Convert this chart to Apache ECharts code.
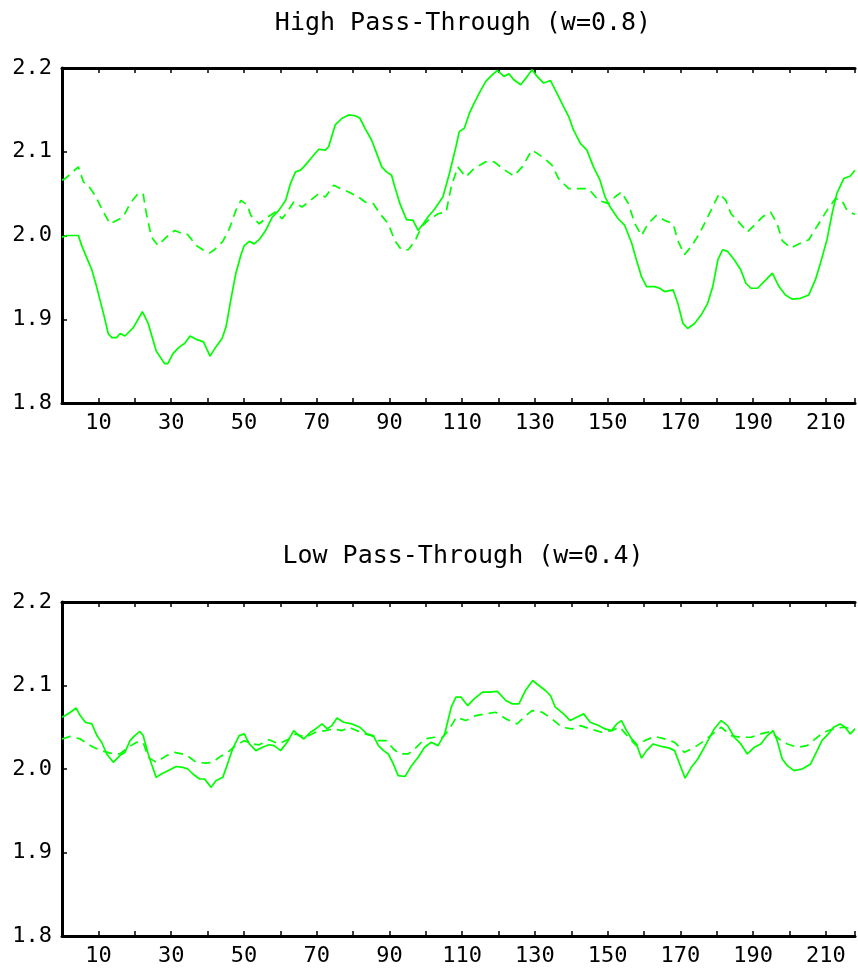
<!DOCTYPE html>
<html>
<head>
<meta charset="utf-8">
<script src="https://cdn.jsdelivr.net/npm/echarts@6/dist/echarts.min.js"></script>
<style>
html,body{margin:0;padding:0;background:#fff;}
#chart{width:858px;height:974px;}
</style>
</head>
<body>
<div id="chart"></div>
<script>
// ---- Data ----
var titles = ['High Pass-Through (w=0.8)', 'Low Pass-Through (w=0.4)'];
var yTicks = [1.8, 1.9, 2.0, 2.1, 2.2];
var xTickLabels = [10, 30, 50, 70, 90, 110, 130, 150, 170, 190, 210];
var xRange = [0, 218];

// High pass-through, solid
var highSolidX = [0,1.4,4.5,5.5,8.2,9.5,11.4,12.7,13.7,15.0,16.0,17.3,19.6,22.1,23.7,25.9,28.2,29.1,30.5,32.3,33.7,35.2,36.9,38.9,40.7,42.3,44.0,45.1,46.4,47.8,49.2,50.1,51.5,52.8,54.2,56.0,57.8,59.6,61.5,62.8,64.2,65.6,66.9,68.8,70.6,72.4,73.3,75.1,77.0,78.8,80.6,81.9,83.3,85.1,86.5,87.9,89.2,90.6,91.5,92.9,94.7,96.5,97.9,99.3,100.6,102.5,104.7,106.5,108.3,109.2,110.6,112.0,113.3,114.7,116.5,118.3,119.7,121.5,122.9,124.2,126.1,127.9,129.2,130.6,132.4,134.3,135.6,137.4,139.3,140.6,142.5,144.3,146.1,147.9,149.3,150.7,152.9,154.7,156.6,157.9,159.3,160.7,162.9,164.3,165.7,168.0,169.3,170.7,172.0,173.9,175.7,177.5,178.9,180.3,181.6,183.0,184.8,186.6,188.0,189.4,191.2,193.5,195.3,197.1,198.9,200.7,203.0,205.3,207.1,208.5,210.3,211.7,213.0,214.9,216.7,218];
var highSolidY = [1.998,2.0,2.0,1.987,1.959,1.939,1.907,1.883,1.878,1.878,1.883,1.880,1.890,1.909,1.895,1.862,1.847,1.847,1.859,1.867,1.871,1.880,1.876,1.873,1.856,1.867,1.877,1.891,1.923,1.955,1.977,1.988,1.993,1.990,1.995,2.006,2.022,2.030,2.042,2.062,2.076,2.078,2.084,2.094,2.103,2.102,2.106,2.132,2.140,2.144,2.143,2.140,2.128,2.114,2.098,2.082,2.076,2.072,2.058,2.038,2.019,2.018,2.006,2.014,2.022,2.032,2.046,2.074,2.106,2.124,2.128,2.146,2.158,2.170,2.184,2.192,2.197,2.190,2.193,2.186,2.180,2.190,2.198,2.190,2.182,2.185,2.174,2.158,2.142,2.126,2.110,2.102,2.082,2.066,2.046,2.034,2.020,2.012,1.991,1.971,1.951,1.939,1.939,1.937,1.933,1.935,1.919,1.895,1.889,1.895,1.905,1.919,1.939,1.971,1.983,1.981,1.971,1.959,1.943,1.937,1.937,1.947,1.955,1.939,1.929,1.924,1.925,1.929,1.947,1.967,1.995,2.026,2.050,2.068,2.071,2.078];

// High pass-through, dashed
var highDashX = [0,0.9,4.5,5.9,7.3,9.1,11.4,13.2,15.0,16.8,18.7,20.9,22.3,23.2,24.6,26.4,28.7,31.0,33.2,34.6,36.9,38.7,40.5,41.9,44.2,46.0,47.8,49.2,51.0,51.9,54.2,56.5,58.7,60.5,61.9,63.7,66.0,68.3,70.6,72.4,74.7,76.5,78.8,81.5,83.3,85.6,87.4,89.7,91.5,93.3,95.2,97.0,98.8,100.6,103.4,105.6,107.0,108.8,111.0,113.3,116.5,118.8,121.1,124.2,126.5,129.2,132.0,134.7,136.5,139.3,142.0,144.7,147.5,150.2,152.0,153.8,155.7,157.5,159.3,161.1,163.4,165.7,168.0,169.3,171.1,173.0,175.2,177.5,179.3,180.7,182.5,183.9,185.7,188.4,190.7,192.5,194.8,196.6,198.0,200.3,202.1,205.3,208.0,210.3,212.6,214.4,215.8,218];
var highDashY = [2.066,2.068,2.082,2.064,2.059,2.048,2.028,2.014,2.018,2.022,2.038,2.050,2.050,2.026,1.998,1.988,1.998,2.006,2.002,2.001,1.988,1.983,1.979,1.983,1.993,2.008,2.030,2.042,2.036,2.024,2.014,2.022,2.028,2.020,2.028,2.040,2.034,2.042,2.050,2.046,2.060,2.056,2.052,2.046,2.040,2.038,2.026,2.014,1.994,1.983,1.983,1.993,2.010,2.018,2.026,2.028,2.058,2.082,2.070,2.080,2.088,2.088,2.080,2.071,2.082,2.102,2.094,2.084,2.068,2.056,2.056,2.056,2.042,2.038,2.046,2.052,2.038,2.014,2.000,2.014,2.024,2.018,2.014,1.994,1.977,1.987,2.002,2.022,2.038,2.050,2.042,2.026,2.018,2.004,2.014,2.022,2.028,2.014,1.994,1.985,1.989,1.995,2.014,2.030,2.044,2.042,2.030,2.025];

// Low pass-through, solid
var lowSolidX = [0,0.9,2.3,3.9,5.0,6.4,8.2,9.6,10.9,12.3,14.1,15.9,17.3,18.7,20.0,21.4,22.3,23.7,24.6,25.9,27.3,29.1,31.4,33.2,34.6,36.0,37.8,39.2,41.0,42.3,44.2,45.5,46.9,48.7,50.1,51.5,53.3,55.1,56.9,58.3,60.1,61.9,63.7,65.1,66.5,68.3,69.7,71.5,72.9,74.2,75.6,77.4,79.7,81.9,83.8,85.6,87.0,88.4,89.7,91.1,92.4,94.3,96.1,97.9,99.7,101.5,103.4,105.2,107.0,108.3,109.7,111.5,113.3,115.6,117.4,119.7,122.0,123.8,125.6,127.4,129.4,131.1,132.9,134.3,135.6,137.9,139.7,141.5,143.4,145.2,147.5,149.3,151.1,152.5,153.8,155.2,156.6,157.9,159.3,160.7,162.5,164.8,167.0,168.4,169.8,171.3,173.0,174.8,177.1,179.3,181.2,183.0,184.8,186.6,188.4,190.3,192.1,193.9,195.5,196.6,198.0,199.4,201.2,203.5,205.8,207.6,208.9,210.7,212.1,213.9,215.3,216.7,218];
var lowSolidY = [2.062,2.064,2.068,2.073,2.064,2.056,2.054,2.040,2.032,2.018,2.008,2.016,2.020,2.034,2.040,2.045,2.040,2.018,2.006,1.990,1.994,1.998,2.003,2.002,2.000,1.994,1.988,1.988,1.978,1.986,1.990,2.006,2.024,2.040,2.042,2.030,2.022,2.026,2.029,2.028,2.022,2.032,2.046,2.040,2.036,2.044,2.048,2.054,2.048,2.052,2.061,2.056,2.054,2.050,2.042,2.040,2.028,2.022,2.018,2.006,1.992,1.991,2.004,2.014,2.026,2.032,2.028,2.042,2.074,2.086,2.086,2.076,2.084,2.092,2.092,2.093,2.082,2.078,2.078,2.094,2.106,2.100,2.094,2.088,2.074,2.066,2.058,2.062,2.066,2.056,2.052,2.048,2.046,2.054,2.058,2.046,2.036,2.030,2.013,2.022,2.030,2.027,2.025,2.022,2.006,1.989,2.002,2.012,2.030,2.048,2.058,2.052,2.038,2.030,2.018,2.026,2.030,2.040,2.046,2.034,2.012,2.004,1.998,2.000,2.006,2.022,2.034,2.042,2.050,2.054,2.050,2.042,2.048];

// Low pass-through, dashed
var lowDashX = [0,2.3,5.0,6.4,8.6,10.9,13.2,15.9,18.2,20.5,22.3,23.7,25.9,28.7,30.9,34.1,36.9,39.6,41.4,43.2,45.5,47.8,50.1,52.4,54.2,56.9,59.6,62.4,64.2,66.9,69.7,72.4,74.7,77.0,78.8,81.0,83.3,85.1,87.0,89.2,91.1,92.9,95.2,97.4,99.7,102.4,104.7,106.5,108.4,111.0,113.8,116.5,119.2,122.0,125.1,127.0,129.2,132.0,134.7,137.4,140.2,142.5,145.2,148.4,151.1,153.4,155.7,157.9,160.2,162.9,165.7,168.4,171.1,173.9,176.6,178.9,181.2,183.9,186.6,189.4,192.1,194.8,197.1,199.4,202.1,204.8,207.1,209.4,212.1,214.7,218];
var lowDashY = [2.036,2.039,2.036,2.032,2.026,2.022,2.019,2.018,2.026,2.032,2.032,2.014,2.008,2.016,2.020,2.017,2.008,2.007,2.008,2.014,2.020,2.028,2.034,2.030,2.029,2.035,2.030,2.036,2.042,2.038,2.044,2.046,2.048,2.046,2.050,2.046,2.042,2.040,2.034,2.034,2.024,2.018,2.018,2.026,2.036,2.038,2.038,2.048,2.062,2.058,2.064,2.066,2.068,2.060,2.054,2.062,2.070,2.068,2.060,2.050,2.048,2.052,2.048,2.044,2.046,2.050,2.038,2.028,2.034,2.039,2.036,2.032,2.020,2.026,2.034,2.042,2.050,2.040,2.038,2.038,2.042,2.045,2.036,2.030,2.026,2.028,2.036,2.044,2.048,2.050,2.048];

function pairs(xs, ys) { return xs.map(function (x, i) { return [x, ys[i]]; }); }

var FONT = '"DejaVu Sans Mono", monospace';
var GREEN = '#00ff00';

function xAxisDef(gridIndex, pos) {
  var bottom = pos === 'bottom';
  return {
    type: 'value', gridIndex: gridIndex, position: pos,
    min: xRange[0], max: xRange[1], interval: 10,
    axisLine: { show: true, onZero: false, lineStyle: { color: '#000', width: 3 } },
    axisTick: { show: true, inside: true, length: 5, lineStyle: { color: '#000', width: 1.5 } },
    axisLabel: {
      show: bottom, margin: 9, color: '#000', fontFamily: FONT, fontSize: 22,
      showMinLabel: true, showMaxLabel: true,
      formatter: function (v) { return xTickLabels.indexOf(v) >= 0 ? String(v) : ''; }
    },
    splitLine: { show: false }
  };
}
function yAxisDef(gridIndex) {
  return {
    type: 'value', gridIndex: gridIndex, position: 'left',
    min: yTicks[0], max: yTicks[yTicks.length - 1], interval: 0.1,
    axisLine: { show: true, onZero: false, lineStyle: { color: '#000', width: 3 } },
    axisTick: { show: true, inside: true, length: 5, lineStyle: { color: '#000', width: 1.5 } },
    axisLabel: {
      margin: 10, color: '#000', fontFamily: FONT, fontSize: 22, padding: [6, 0, 0, 0],
      formatter: function (v) { return v.toFixed(1); }
    },
    splitLine: { show: false }
  };
}
function lineSeries(gi, xs, ys, dashed) {
  return {
    type: 'line', xAxisIndex: gi * 2, yAxisIndex: gi,
    data: pairs(xs, ys), showSymbol: false, symbol: 'none', smooth: false,
    animation: false, clip: true,
    lineStyle: { color: GREEN, width: 1.7, type: dashed ? [9, 6] : 'solid' }
  };
}

var chart = echarts.init(document.getElementById('chart'), null, { renderer: 'canvas' });
chart.setOption({
  backgroundColor: '#fff',
  animation: false,
  graphic: [
    { type: 'text', x: 463, y: 23, style: { text: titles[0], font: '25px ' + FONT, fill: '#000', align: 'center', verticalAlign: 'middle', textAlign: 'center', textVerticalAlign: 'middle' } },
    { type: 'text', x: 463, y: 556, style: { text: titles[1], font: '25px ' + FONT, fill: '#000', align: 'center', verticalAlign: 'middle', textAlign: 'center', textVerticalAlign: 'middle' } }
  ],
  grid: [
    { left: 62, top: 68, right: 0, height: 335, containLabel: false },
    { left: 62, top: 602, right: 0, height: 334, containLabel: false }
  ],
  xAxis: [xAxisDef(0, 'bottom'), xAxisDef(0, 'top'), xAxisDef(1, 'bottom'), xAxisDef(1, 'top')],
  yAxis: [yAxisDef(0), yAxisDef(1)],
  series: [
    lineSeries(0, highSolidX, highSolidY, false),
    lineSeries(0, highDashX, highDashY, true),
    lineSeries(1, lowSolidX, lowSolidY, false),
    lineSeries(1, lowDashX, lowDashY, true)
  ]
});
</script>
</body>
</html>
